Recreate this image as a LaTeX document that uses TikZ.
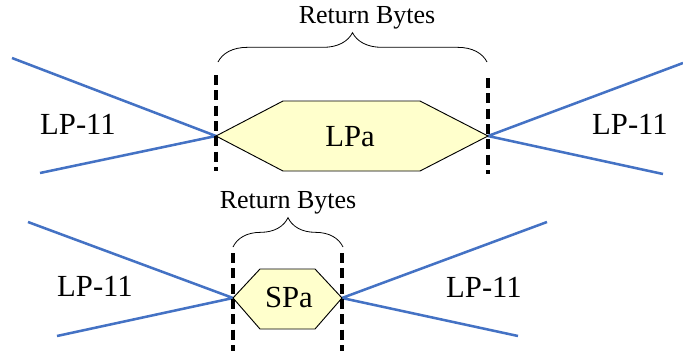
\documentclass[tikz,border=0pt]{standalone}
\usepackage{fontspec}
\setmainfont{Liberation Serif}
\usetikzlibrary{decorations.pathreplacing}
\definecolor{fiberblue}{RGB}{68,114,196}
\definecolor{padyellow}{RGB}{255,255,204}
\tikzset{
  fiber/.style={fiberblue,line width=1.9pt},
  cutline/.style={black,line width=2.4pt,dash pattern=on 7.5pt off 4pt},
  pad/.style={draw=black,line width=0.7pt,fill=padyellow},
  bytes/.style={decorate,decoration={brace,amplitude=22pt},line width=0.6pt},
  lbl/.style={font=\fontsize{23}{27}\selectfont,anchor=base},
  rblbl/.style={font=\fontsize{19.5}{23}\selectfont,anchor=base},
}
\begin{document}
\begin{tikzpicture}[x=0.75pt,y=-0.75pt]
\useasboundingbox (0,0) rectangle (683,351);
% long packet
\begin{scope}
\coordinate (lpL) at (216,136);
\coordinate (lpR) at (488,136);
\coordinate (lpUL) at (12,58);
\coordinate (lpDL) at (40,173);
\coordinate (lpUR) at (683,63);
\coordinate (lpDR) at (663,174);
\draw[fiber] (lpUL) -- (lpL) -- (lpDL);
\draw[fiber] (lpUR) -- (lpR) -- (lpDR);
\draw[pad] (lpL) -- (283,101) -- (420,101) -- (lpR) -- (420,171) -- (283,171) -- cycle;
\node[lbl] (lpa) at (350,146) {LPa};
\draw[cutline] (216,75) -- (216,171);
\draw[cutline] (488,78) -- (488,174);
\draw[bytes] (218,62) -- (487,62);
\node[rblbl] (lpret) at (367,23) {Return Bytes};
\node[lbl] (lpin) at (78,134) {LP-11};
\node[lbl] (lpout) at (630,134) {LP-11};
\end{scope}
% short packet
\begin{scope}
\coordinate (spL) at (233,298);
\coordinate (spR) at (342,298);
\coordinate (spUL) at (28,222);
\coordinate (spDL) at (57,336);
\coordinate (spUR) at (547,222);
\coordinate (spDR) at (518,336);
\draw[fiber] (spUL) -- (spL) -- (spDL);
\draw[fiber] (spUR) -- (spR) -- (spDR);
\draw[pad] (spL) -- (260,269) -- (315,269) -- (spR) -- (315,329) -- (260,329) -- cycle;
\node[lbl] (spa) at (289,307) {SPa};
\draw[cutline] (233,253) -- (233,351);
\draw[cutline] (342,253) -- (342,351);
\draw[bytes] (233,247) -- (343,247);
\node[rblbl] (spret) at (288,208) {Return Bytes};
\node[lbl] (spin) at (95,296) {LP-11};
\node[lbl] (spout) at (484,297) {LP-11};
\end{scope}
\end{tikzpicture}
\end{document}
